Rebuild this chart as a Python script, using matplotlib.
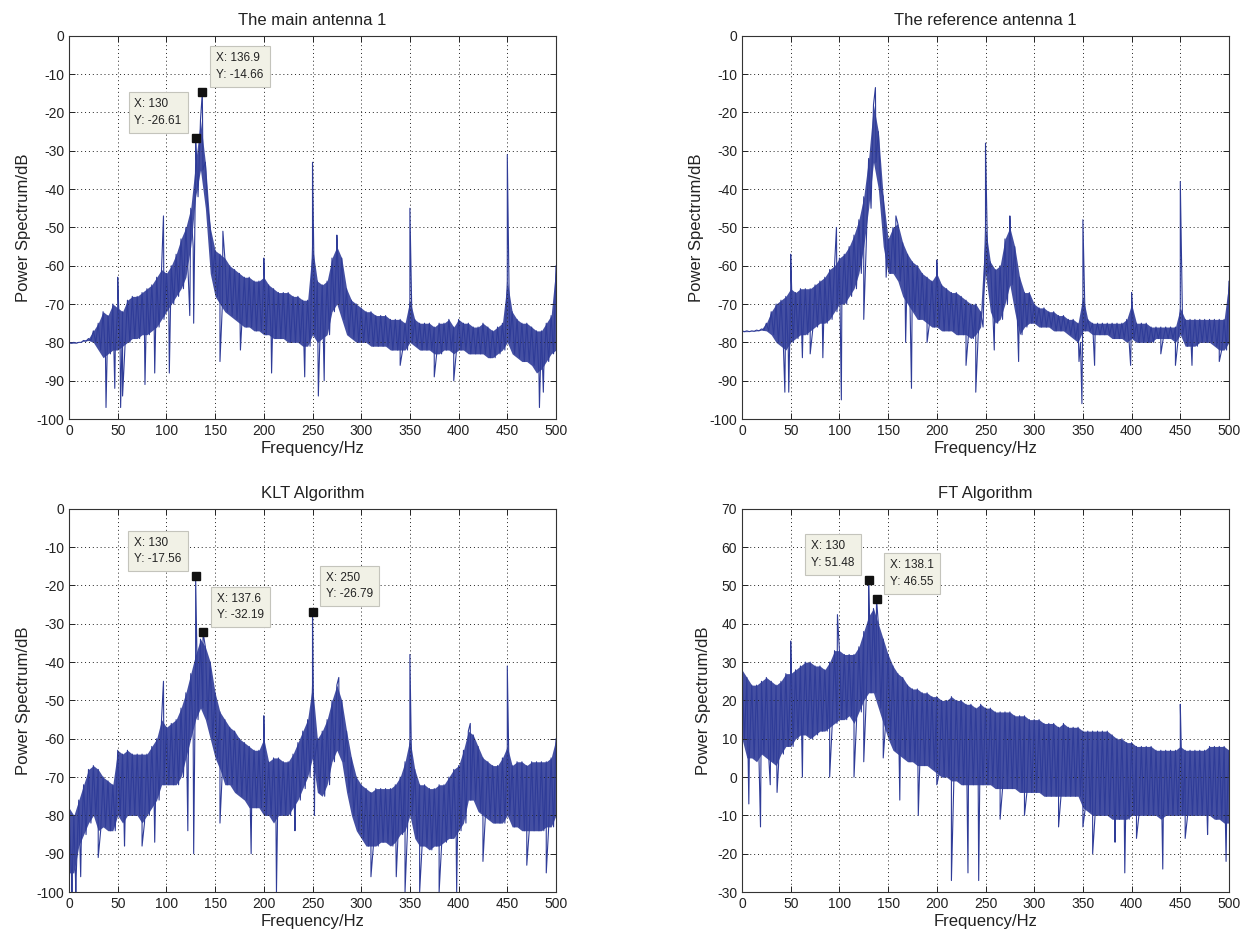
"""
Power spectra of the main / reference antenna and of the KLT / FT algorithms.
Values are read off the reference figure: noise-band envelope every 5 Hz
plus the individual spikes that stick out of the band.
"""

import numpy as np
import matplotlib
matplotlib.use("Agg")
import matplotlib.pyplot as plt

OUT_PATH = "out.png"

# frequency grid of the envelope readings (Hz)
freq = np.arange(0, 505, 5)

# ---- The main antenna 1 ----
main_upper = [
    -80, -80, -80, -79.5, -79, -77, -75, -72, -73, -70,
    -71, -72, -69, -68, -68, -67, -66, -65, -63, -61,
    -62, -60, -57, -53, -50, -45, -33, -22, -33, -50,
    -56, -57, -58, -60, -61, -62, -63, -63, -64, -64,
    -63, -65, -66, -67, -67, -67, -68, -68, -69, -69,
    -55, -64, -65, -64, -58, -55, -58, -66, -69, -70,
    -71, -72, -72, -73, -73, -73, -74, -74, -74, -75,
    -69, -74, -75, -75, -75, -76, -75, -75, -74, -76,
    -74, -75, -75, -76, -76, -75, -76, -77, -76, -75,
    -64, -72, -74, -75, -75, -76, -77, -77, -75, -73, -60]
main_lower = [
    -80.2, -80.2, -80, -79.7, -79.5, -80, -82, -84, -83, -82,
    -82, -81, -80, -79, -79, -78, -78, -77, -76, -74,
    -72, -70, -68, -66, -63, -55, -42, -35, -45, -62,
    -68, -70, -72, -73, -74, -75, -76, -76, -77, -77,
    -78, -78, -79, -79, -79, -80, -80, -80, -81, -81,
    -78, -80, -79, -78, -72, -70, -74, -78, -79, -80,
    -80, -80, -81, -81, -81, -81, -82, -82, -82, -82,
    -80, -81, -82, -82, -82, -83, -83, -82, -82, -83,
    -82, -82, -83, -83, -83, -83, -84, -84, -83, -82,
    -80, -83, -84, -85, -85, -86, -88, -87, -85, -83, -82]
main_spike_f = [50, 97, 130, 136.9, 158, 200, 250, 275, 350, 450, 500,
                38, 47, 53, 55, 78, 88, 103, 124, 128, 155, 176, 208, 242,
                256, 262, 340, 375, 395, 483, 487]
main_spike_v = [-63, -47, -26.61, -14.66, -51, -58, -33, -52, -45, -31, -60,
                -97, -92, -97, -94, -91, -88, -88, -73, -75, -85, -82, -88, -89,
                -94, -90, -86, -89, -90, -97, -93]

# ---- The reference antenna 1 ----
ref_upper = [
    -77, -77, -77, -76.8, -76.5, -75, -72, -70, -69, -68,
    -66, -67, -66, -66, -66, -65, -64, -63, -61, -60,
    -58, -57, -55, -52, -48, -42, -32, -18, -25, -42,
    -53, -50, -49, -54, -57, -59, -60, -62, -63, -64,
    -62, -65, -66, -67, -67, -68, -69, -70, -70, -72,
    -50, -59, -61, -60, -53, -50, -55, -63, -67, -67,
    -70, -71, -71, -72, -72, -73, -73, -74, -74, -75,
    -68, -74, -75, -75, -75, -75, -75, -75, -75, -74,
    -70, -75, -75, -75, -76, -76, -76, -76, -76, -76,
    -71, -74, -74, -74, -74, -74, -74, -74, -74, -74, -64]
ref_lower = [
    -77.2, -77.2, -77.1, -77, -76.8, -77, -78, -80, -81, -82,
    -80, -79, -78, -78, -77, -76, -75, -75, -74, -72,
    -70, -70, -68, -66, -62, -55, -45, -33, -40, -55,
    -62, -62, -64, -68, -70, -72, -74, -74, -75, -76,
    -76, -77, -77, -77, -78, -78, -78, -79, -78, -76,
    -62, -72, -75, -74, -70, -65, -72, -78, -76, -75,
    -75, -76, -76, -76, -77, -77, -77, -78, -79, -80,
    -77, -77, -78, -78, -78, -78, -79, -79, -79, -80,
    -79, -80, -80, -80, -80, -79, -79, -79, -79, -80,
    -78, -81, -81, -81, -80, -80, -80, -81, -82, -82, -80]
ref_spike_f = [50, 97, 137, 158, 200, 250, 275, 350, 400, 450, 500,
               44, 48, 62, 70, 83, 102, 125, 148, 168, 174, 190, 230, 240,
               259, 284, 346, 349, 362, 399, 430, 445, 462, 490]
ref_spike_v = [-57, -50, -13.5, -47, -58.5, -28, -47, -48, -67, -38, -64,
               -93, -93, -84, -83, -84, -95, -74, -63, -80, -92, -80, -86, -93,
               -82, -85, -85, -96, -86, -86, -83, -86, -86, -85]

# ---- KLT Algorithm ----
klt_upper = [
    -78, -80, -76, -72, -68, -67, -68, -70, -71, -72,
    -63, -64, -63, -64, -64, -64, -64, -62, -60, -55,
    -57, -56, -55, -52, -48, -43, -38, -34, -36, -40,
    -48, -53, -55, -57, -58, -60, -61, -62, -63, -63,
    -60, -66, -65, -65, -66, -66, -64, -61, -58, -55,
    -46, -60, -58, -55, -50, -46, -50, -58, -65, -70,
    -72, -73, -74, -73, -73, -73, -73, -72, -70, -66,
    -60, -68, -72, -72, -73, -73, -72, -72, -70, -68,
    -67, -63, -58, -59, -62, -65, -66, -67, -67, -65,
    -62, -67, -66, -66, -67, -66, -66, -66, -66, -65, -60]
klt_lower = [
    -95, -95, -88, -85, -82, -80, -84, -83, -84, -84,
    -80, -82, -80, -80, -80, -82, -80, -78, -76, -72,
    -72, -72, -72, -70, -65, -60, -55, -52, -55, -60,
    -65, -68, -72, -72, -74, -75, -76, -78, -78, -78,
    -80, -80, -82, -80, -80, -80, -78, -76, -73, -70,
    -65, -74, -75, -72, -66, -63, -66, -74, -80, -84,
    -86, -88, -88, -88, -87, -87, -88, -87, -85, -84,
    -80, -86, -88, -88, -89, -88, -88, -87, -86, -86,
    -84, -82, -76, -76, -79, -80, -81, -82, -82, -82,
    -80, -83, -83, -84, -84, -84, -84, -84, -83, -83, -80]
klt_spike_f = [97, 130, 137.6, 200, 250, 277, 350, 412, 450,
               3, 7, 12, 30, 57, 75, 88, 122, 128, 155, 187, 213, 232,
               252, 310, 336, 345, 360, 380, 398, 425, 470, 490]
klt_spike_v = [-45, -17.56, -32.19, -54, -26.79, -44, -38, -56, -41,
               -100, -100, -96, -91, -88, -88, -87, -84, -90, -82, -90, -100, -84,
               -80, -96, -96, -100, -100, -100, -100, -92, -93, -95]

# ---- FT Algorithm ----
ft_upper = [
    28, 26, 24, 24, 25, 26, 25, 24, 25, 27,
    27, 28, 29, 30, 30, 29, 29, 28, 30, 33,
    33, 32, 32, 32, 34, 38, 42, 44, 40, 36,
    32, 29, 27, 26, 24, 23, 23, 22, 22, 21,
    21, 20, 20, 21, 20, 20, 19, 19, 18, 19,
    18, 18, 17, 17, 17, 17, 16, 16, 16, 15,
    15, 15, 14, 14, 14, 13, 14, 13, 13, 13,
    12, 12, 12, 12, 12, 12, 11, 10, 10, 9,
    9, 8, 8, 8, 8, 7, 7, 7, 7, 7,
    8, 7, 7, 7, 7, 7, 8, 8, 8, 8, 7]
ft_lower = [
    10, 5, 5, 4, 6, 5, 4, 3, 6, 8,
    8, 10, 11, 11, 10, 11, 12, 12, 13, 14,
    15, 15, 16, 14, 17, 20, 22, 22, 18, 14,
    10, 7, 6, 5, 4, 4, 3, 3, 3, 2,
    1, 0, 0, -1, -1, -2, -2, -2, -2, -2,
    -2, -2, -3, -3, -3, -3, -3, -4, -4, -4,
    -4, -4, -5, -5, -5, -5, -5, -5, -5, -5,
    -8, -9, -10, -10, -10, -10, -11, -11, -11, -11,
    -10, -10, -10, -10, -10, -10, -11, -10, -10, -10,
    -10, -10, -10, -10, -10, -10, -10, -11, -11, -12, -12]
ft_spike_f = [50, 98, 130, 138.1, 450,
              7, 19, 29, 36, 62, 90, 115, 125, 145, 162, 181, 200, 215, 232,
              243, 265, 290, 325, 350, 360, 383, 393, 405, 432, 455, 478, 497]
ft_spike_v = [35.5, 42.4, 51.48, 46.55, 19,
              -7, -13, -2, -4, 0, 0, 0, 4, 5, -6, -10, -2, -27, -25,
              -27, -11, -10, -13, -13, -20, -17, -25, -16, -24, -16, -15, -22]

# data tips: (x, y, side) -- side says where the box sits
main_tips = [(130, -26.61, "left"), (136.9, -14.66, "right")]
klt_tips = [(130, -17.56, "left"), (137.6, -32.19, "right"), (250, -26.79, "right")]
ft_tips = [(130, 51.48, "left"), (138.1, 46.55, "right")]

LINE = "#2f3c98"
FONT = "Liberation Sans"
plt.rcParams["font.family"] = [FONT, "DejaVu Sans"]
plt.rcParams["axes.unicode_minus"] = False


def trace(upper, lower, sf, sv):
    xs = np.concatenate([freq, freq + 2.5, np.asarray(sf, float)])
    ys = np.concatenate([upper, lower, np.asarray(sv, float)])
    order = np.argsort(xs, kind="stable")
    return xs[order], ys[order]


def panel(ax, title, upper, lower, sf, sv, ylim, tips):
    ax.fill_between(freq, lower, upper, color=LINE, lw=0, alpha=0.9)
    x, y = trace(upper, lower, sf, sv)
    ax.plot(x, y, color=LINE, lw=0.8)
    ax.set_xlim(0, 500)
    ax.set_ylim(*ylim)
    ax.set_xticks(np.arange(0, 501, 50))
    ax.set_yticks(np.arange(ylim[0], ylim[1] + 1, 10))
    ax.grid(True, color="#222222", linestyle=(0, (1, 3)), linewidth=0.7)
    ax.tick_params(direction="in", top=True, right=True, length=4,
                   labelsize=10, colors="#222222", width=0.7)
    for s in ax.spines.values():
        s.set_color("#333333")
        s.set_linewidth(0.8)
    ax.set_title(title, fontsize=12, pad=8, color="#222222")
    ax.set_xlabel("Frequency/Hz", fontsize=12, labelpad=2, color="#222222")
    ax.set_ylabel("Power Spectrum/dB", fontsize=12, color="#222222")

    for tx, ty, side in tips:
        ax.plot([tx], [ty], "s", color="#111111", ms=6, zorder=5)
        dx = 10 if side == "right" else -10
        ax.annotate(f"X: {tx:g}\nY: {ty:g}", xy=(tx, ty), xytext=(dx, 8),
                    textcoords="offset points",
                    ha="left" if side == "right" else "right", va="bottom",
                    multialignment="left",
                    fontsize=8.5, color="#222222", linespacing=1.5, zorder=6,
                    bbox=dict(boxstyle="square,pad=0.5", fc="#f1f1e6",
                              ec="#c4c4bc", lw=0.8))


def main():
    fig = plt.figure(figsize=(12.5, 9.38), dpi=100)
    w, h = 0.3896, 0.4085
    ax1 = fig.add_axes([0.0552, 0.5533, w, h])
    ax2 = fig.add_axes([0.5936, 0.5533, w, h])
    ax3 = fig.add_axes([0.0552, 0.0490, w, h])
    ax4 = fig.add_axes([0.5936, 0.0490, w, h])

    panel(ax1, "The main antenna 1", main_upper, main_lower,
          main_spike_f, main_spike_v, (-100, 0), main_tips)
    panel(ax2, "The reference antenna 1", ref_upper, ref_lower,
          ref_spike_f, ref_spike_v, (-100, 0), [])
    panel(ax3, "KLT Algorithm", klt_upper, klt_lower,
          klt_spike_f, klt_spike_v, (-100, 0), klt_tips)
    panel(ax4, "FT Algorithm", ft_upper, ft_lower,
          ft_spike_f, ft_spike_v, (-30, 70), ft_tips)

    fig.savefig(OUT_PATH, dpi=100)


if __name__ == "__main__":
    main()
